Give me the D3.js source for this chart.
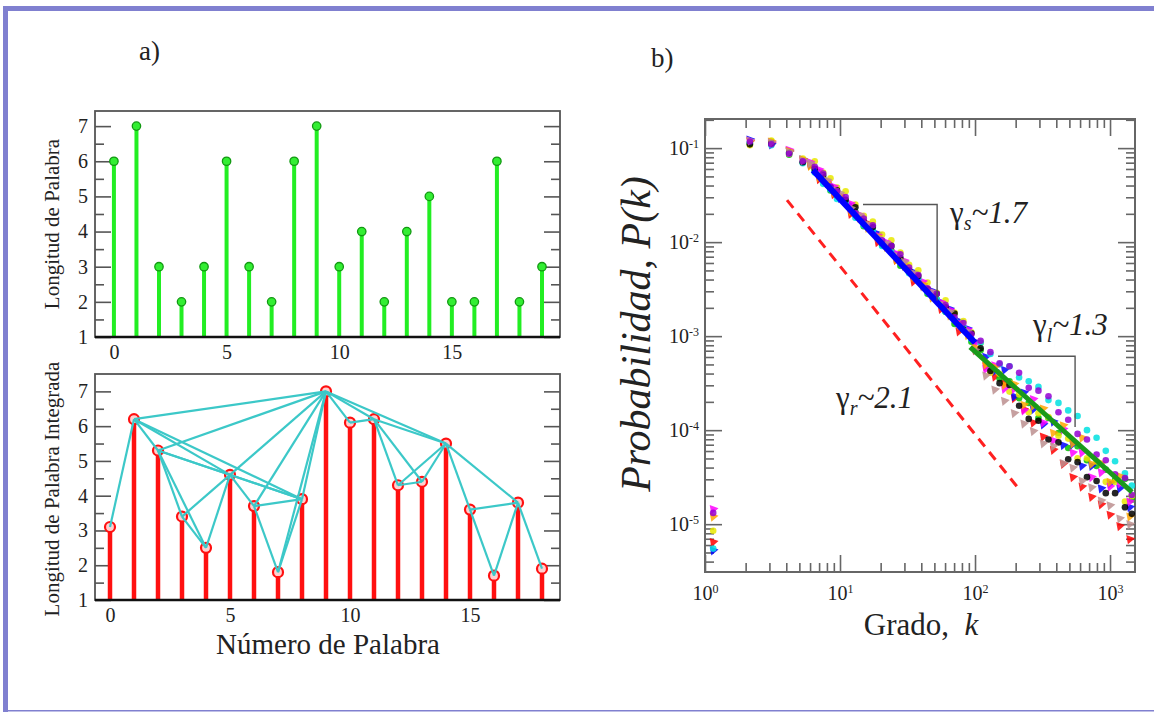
<!DOCTYPE html>
<html><head><meta charset="utf-8">
<script src="https://cdn.jsdelivr.net/npm/d3@7"></script>
<style>
body{margin:0;background:#fff}
svg{display:block}
text{font-family:"Liberation Serif","Times New Roman",serif;fill:#222}
</style></head>
<body><svg id="c" width="1154" height="713"></svg>
<script>
// ---------- DATA ----------
// panel a) top: word lengths
const wordIndex = [0,1,2,3,4,5,6,7,8,9,10,11,12,13,14,15,16,17,18,19];
const wordLengths = [6,7,3,2,3,6,3,2,6,7,3,4,2,4,5,2,2,6,2,3];
const topYTicks = [1,2,3,4,5,6,7];
const topXTicks = [0,5,10,15];
// panel a) bottom: integrated word lengths + visibility graph
const intIndex = [0,1,2,3,4,5,6,7,8,9,10,11,12,13,14,15,16,17,18];
const intLengths = [3.1,6.2,5.3,3.4,2.5,4.6,3.7,1.8,3.9,7.0,6.1,6.2,4.3,4.4,5.5,3.6,1.7,3.8,1.9];
const visEdges = [[0,1],[1,2],[1,5],[1,8],[1,9],[2,3],[2,4],[2,5],[2,8],[2,9],[3,4],[3,5],[4,5],
  [5,6],[5,8],[5,9],[6,7],[6,8],[6,9],[7,8],[7,9],[8,9],[9,10],[9,11],[9,14],[10,11],[11,12],
  [11,13],[11,14],[12,13],[12,14],[13,14],[14,15],[14,17],[15,16],[15,17],[16,17],[17,18]];
const botYTicks = [1,2,3,4,5,6,7];
const botXTicks = [0,5,10,15];
// panel b) degree distributions (log10 P(k)), one array per series
const degreeK  = [1.15,2.15,3.1,4.2,5.3,6,7,8,9,10,12,14,16,19,22,26,30,35,41,48,56,65,76,88,100,120,140,165,195,230,270,320,380,450,530,620,730,860,1000,1180,1400];
const degreeK2 = [1.15,2.15,3.1,4.2,5.3,6.5,7.5,8.5,9.5,11,13,15,17.5,20.5,24,28,32.5,38,44.5,52,60.5,70.5,82,94,110,130,152,180,212,250,295,350,415,490,575,675,795,930,1090,1290,1450];
const logP_red     = [-5.19,-0.93,-0.95,-1.04,-1.13,-1.18,-1.33,-1.35,-1.49,-1.51,-1.70,-1.74,-1.80,-2.00,-2.02,-2.19,-2.24,-2.42,-2.46,-2.54,-2.71,-2.73,-2.95,-2.95,-3.15,-3.32,-3.43,-3.50,-3.66,-3.78,-3.92,-4.07,-4.21,-4.36,-4.50,-4.60,-4.71,-4.79,-4.90,-5.02,-5.16];
const logP_green   = [null,-0.95,-0.93,-1.07,-1.15,-1.24,-1.32,-1.45,-1.50,-1.59,-1.68,-1.83,-1.89,-2.03,-2.09,-2.25,-2.32,-2.41,-2.55,-2.61,-2.74,-2.87,-2.93,-3.06,-3.15,-3.33,-3.45,-3.48,-3.66,-3.71,-3.87,-3.87,-4.03,-4.19,-4.17,-4.32,-4.38,-4.42,-4.53,-4.52,-4.74];
const logP_blue    = [-5.28,-0.91,-0.96,-1.03,-1.12,-1.17,-1.25,-1.37,-1.43,-1.53,-1.61,-1.73,-1.83,-1.91,-2.03,-2.13,-2.25,-2.32,-2.45,-2.52,-2.64,-2.71,-2.84,-2.92,-3.06,-3.22,-3.37,-3.36,-3.64,-3.60,-3.78,-3.94,-3.91,-4.16,-4.15,-4.38,-4.38,-4.62,-4.57,-4.62,-4.82];
const logP_yellow  = [-5.07,-0.97,-0.92,-1.06,-1.11,-1.14,-1.26,-1.32,-1.42,-1.46,-1.60,-1.72,-1.78,-1.92,-1.98,-2.11,-2.24,-2.30,-2.43,-2.54,-2.62,-2.75,-2.84,-2.96,-3.07,-3.39,-3.40,-3.59,-3.62,-3.81,-3.82,-3.86,-4.06,-4.09,-4.30,-4.30,-4.33,-4.55,-4.55,-4.76,-4.70];
const logP_magenta = [-4.84,-0.92,-0.94,-1.02,-1.14,-1.15,-1.23,-1.36,-1.41,-1.50,-1.59,-1.71,-1.82,-1.93,-2.00,-2.12,-2.20,-2.34,-2.42,-2.53,-2.64,-2.72,-2.86,-2.93,-3.08,-3.35,-3.31,-3.56,-3.56,-3.79,-3.67,-3.92,-4.11,-3.99,-4.24,-4.24,-4.50,-4.45,-4.60,-4.57,-4.76];
const logP_cyan    = [-5.26,-0.94,-0.97,-1.05,-1.16,-1.26,-1.38,-1.44,-1.54,-1.58,-1.74,-1.82,-1.88,-2.04,-2.11,-2.21,-2.33,-2.39,-2.53,-2.61,-2.74,-2.82,-2.91,-3.03,-3.07,-3.19,-3.30,-3.32,-3.44,-3.48,-3.54,-3.68,-3.71,-3.79,-3.85,-4.00,-4.08,-4.22,-4.33,-4.46,-4.59];
const logP_orange  = [-4.92,-0.93,-0.93,-1.03,-1.12,-1.19,-1.31,-1.37,-1.47,-1.51,-1.67,-1.74,-1.85,-1.94,-2.05,-2.19,-2.25,-2.37,-2.45,-2.59,-2.66,-2.78,-2.87,-2.99,-3.12,-3.30,-3.33,-3.52,-3.51,-3.73,-3.74,-3.77,-4.03,-3.95,-4.14,-4.08,-4.36,-4.35,-4.55,-4.49,-4.92];
const logP_black   = [null,-0.96,-0.95,-1.05,-1.15,-1.22,-1.29,-1.42,-1.45,-1.55,-1.63,-1.78,-1.84,-2.01,-2.04,-2.17,-2.30,-2.36,-2.50,-2.55,-2.69,-2.76,-2.93,-2.97,-3.13,-3.37,-3.50,-3.52,-3.74,-3.88,-3.90,-4.10,-4.13,-4.31,-4.34,-4.50,-4.54,-4.67,-4.67,-4.82,-4.89];
const logP_brown   = [null,-0.92,-0.94,-1.04,-1.13,-1.16,-1.28,-1.34,-1.44,-1.48,-1.64,-1.71,-1.81,-1.95,-2.01,-2.14,-2.21,-2.33,-2.47,-2.53,-2.66,-2.74,-2.88,-2.95,-3.15,-3.42,-3.57,-3.69,-3.82,-3.93,-4.01,-4.14,-4.17,-4.35,-4.40,-4.54,-4.61,-4.75,-4.80,-4.94,-5.00];
const logP_violet  = [-4.88,-0.93,-0.96,-1.06,-1.14,-1.20,-1.27,-1.41,-1.46,-1.52,-1.69,-1.75,-1.82,-1.98,-2.04,-2.13,-2.27,-2.35,-2.49,-2.55,-2.67,-2.80,-2.86,-2.98,-3.05,-3.17,-3.29,-3.32,-3.39,-3.55,-3.58,-3.64,-3.81,-3.89,-4.04,-4.10,-4.26,-4.32,-4.47,-4.51,-4.69];
const seriesColors = ["#ff0000","#00c000","#0000ff","#e8e800","#ff00ff","#00e0e0","#ffa500","#000000","#bc8f8f","#9400d3"];
// fitted power laws (endpoints) and guide line
const fitShortK = [6.3,100],  fitShortP = [0.0583,8.5e-4];
const fitLongK  = [92,1455],  fitLongP  = [7.64e-4,2.19e-5];
const guideK    = [4.05,215], guideP    = [0.028,2.3e-5];
const triS_K = [14.8,52.4,52.4], triS_P = [0.0251,0.0251,0.0024];
const triL_K = [148,551,551],   triL_P = [6.12e-4,6.12e-4,1.08e-4];
const majorKTicks = [1,10,100,1000];
const minorKTicks = [2,3,4,5,6,7,8,9,20,30,40,50,60,70,80,90,200,300,400,500,600,700,800,900];
const majorPTicks = [1e-5,1e-4,1e-3,1e-2,1e-1];
const minorPTicks = [4e-6,5e-6,6e-6,7e-6,8e-6,9e-6,2e-5,3e-5,4e-5,5e-5,6e-5,7e-5,8e-5,9e-5,2e-4,3e-4,4e-4,5e-4,6e-4,7e-4,8e-4,9e-4,2e-3,3e-3,4e-3,5e-3,6e-3,7e-3,8e-3,9e-3,2e-2,3e-2,4e-2,5e-2,6e-2,7e-2,8e-2,9e-2,2e-1];

// ---------- DRAW ----------
const FONT = "'Liberation Serif','Times New Roman',serif";
const svg = d3.select("#c");
// page border
svg.append("rect").attr("x",3).attr("y",6).attr("width",1151).attr("height",5).attr("fill","#8080d0");
svg.append("rect").attr("x",3).attr("y",6).attr("width",5).attr("height",706).attr("fill","#8080d0");
svg.append("rect").attr("x",3).attr("y",710).attr("width",1151).attr("height",1.5).attr("fill","#8080d0");

const frameCol = "#555";
function styleAxis(g){ g.attr("font-family",FONT); g.select(".domain").remove(); g.selectAll(".tick line").attr("stroke",frameCol).attr("stroke-width",1.6); }

// ===== panel a) =====
function linearPanel(x,y,yTicks,xTicks){
  const [x0,x1]=x.range(), [y0,y1]=y.range();
  const halves=[]; yTicks.forEach(t=>{ if(t+0.5<y.domain()[1]) halves.push(t+0.5); });
  svg.append("g").attr("transform",`translate(${x0},0)`).call(d3.axisLeft(y).tickValues(yTicks).tickSize(-16).tickPadding(7).tickFormat(d3.format("d")))
    .call(styleAxis).selectAll("text").attr("font-size",20).attr("fill","#222");
  svg.append("g").attr("transform",`translate(${x0},0)`).call(d3.axisLeft(y).tickValues(halves).tickSize(-9).tickFormat("")).call(styleAxis);
  svg.append("g").attr("transform",`translate(${x1},0)`).call(d3.axisRight(y).tickValues(yTicks).tickSize(-16).tickFormat("")).call(styleAxis);
  svg.append("g").attr("transform",`translate(${x1},0)`).call(d3.axisRight(y).tickValues(halves).tickSize(-9).tickFormat("")).call(styleAxis);
  svg.append("g").attr("transform",`translate(0,${y0})`).call(d3.axisBottom(x).tickValues(xTicks).tickSize(0).tickPadding(8).tickFormat(d3.format("d")))
    .call(styleAxis).selectAll("text").attr("font-size",20).attr("fill","#222");
  svg.append("rect").attr("x",x0).attr("y",y1).attr("width",x1-x0).attr("height",y0-y1).attr("fill","none").attr("stroke",frameCol).attr("stroke-width",1.8);
}
const xT = d3.scaleLinear().domain([-0.84,19.8]).range([95,560]);
const yT = d3.scaleLinear().domain([1,7.43]).range([337,111]);
linearPanel(xT,yT,topYTicks,topXTicks);
const gT = svg.append("g");
gT.selectAll("line.stem").data(wordIndex).join("line")
  .attr("x1",d=>xT(d)).attr("x2",d=>xT(d)).attr("y1",yT(1)).attr("y2",(d,i)=>yT(wordLengths[i]))
  .attr("stroke","#22ee22").attr("stroke-width",4);
svg.append("line").attr("x1",95).attr("x2",560).attr("y1",yT(1)).attr("y2",yT(1)).attr("stroke","#111").attr("stroke-width",2.5);
gT.selectAll("circle").data(wordIndex).join("circle")
  .attr("cx",d=>xT(d)).attr("cy",(d,i)=>yT(wordLengths[i])).attr("r",4.2)
  .attr("fill","#33ee33").attr("stroke","#119911").attr("stroke-width",1.3);
svg.append("text").attr("transform","translate(59,224) rotate(-90)").attr("text-anchor","middle").attr("font-size",21).attr("font-family",FONT).text("Longitud de Palabra");

const xB = d3.scaleLinear().domain([-0.625,18.75]).range([95,560]);
const yB = d3.scaleLinear().domain([1,7.5]).range([600,374]);
linearPanel(xB,yB,botYTicks,botXTicks);
const gB = svg.append("g");
gB.selectAll("line.stem").data(intIndex).join("line")
  .attr("x1",d=>xB(d)).attr("x2",d=>xB(d)).attr("y1",yB(1)).attr("y2",(d,i)=>yB(intLengths[i]))
  .attr("stroke","#ff1010").attr("stroke-width",4.5);
svg.append("line").attr("x1",95).attr("x2",560).attr("y1",yB(1)).attr("y2",yB(1)).attr("stroke","#111").attr("stroke-width",2.5);
gB.selectAll("circle").data(intIndex).join("circle")
  .attr("cx",d=>xB(d)).attr("cy",(d,i)=>yB(intLengths[i])).attr("r",5)
  .attr("fill","#ffd0d0").attr("stroke","#ff1010").attr("stroke-width",2.2);
gB.selectAll("line.edge").data(visEdges).join("line")
  .attr("x1",e=>xB(e[0])).attr("y1",e=>yB(intLengths[e[0]]))
  .attr("x2",e=>xB(e[1])).attr("y2",e=>yB(intLengths[e[1]]))
  .attr("stroke","#3cc8c8").attr("stroke-width",2.2);
svg.append("text").attr("transform","translate(59,489) rotate(-90)").attr("text-anchor","middle").attr("font-size",21).attr("font-family",FONT).text("Longitud de Palabra Integrada");
svg.append("text").attr("x",328).attr("y",654).attr("text-anchor","middle").attr("font-size",29).attr("font-family",FONT).text("Número de Palabra");
svg.append("text").attr("x",139).attr("y",60).attr("font-size",27).attr("font-family",FONT).text("a)");

// ===== panel b) =====
const xR = d3.scaleLog().domain([1,1531]).range([705,1135]);
const yR = d3.scaleLog().domain([3.1e-6,0.204]).range([572,119]);
const rc = "#666";
function styleR(g){ g.attr("font-family",FONT); g.select(".domain").remove(); g.selectAll(".tick line").attr("stroke",rc).attr("stroke-width",1.6); }
function supLabel(sel){
  sel.each(function(d){
    const t=d3.select(this); const e=Math.round(Math.log10(d));
    t.text(null).attr("font-size",20).attr("fill","#333");
    t.append("tspan").text("10");
    t.append("tspan").attr("dy","-0.6em").attr("font-size",12).text(e);
  });
}
svg.append("g").attr("transform","translate(705,0)").call(d3.axisLeft(yR).tickValues(majorPTicks).tickSize(-17).tickPadding(6)).call(styleR).selectAll("text").call(supLabel);
svg.append("g").attr("transform","translate(705,0)").call(d3.axisLeft(yR).tickValues(minorPTicks).tickSize(-9).tickFormat("")).call(styleR);
svg.append("g").attr("transform","translate(1135,0)").call(d3.axisRight(yR).tickValues(majorPTicks).tickSize(-17).tickFormat("")).call(styleR);
svg.append("g").attr("transform","translate(1135,0)").call(d3.axisRight(yR).tickValues(minorPTicks).tickSize(-9).tickFormat("")).call(styleR);
svg.append("g").attr("transform","translate(0,572)").call(d3.axisBottom(xR).tickValues(majorKTicks).tickSize(-17).tickPadding(14)).call(styleR).selectAll("text").call(supLabel);
svg.append("g").attr("transform","translate(0,572)").call(d3.axisBottom(xR).tickValues(minorKTicks).tickSize(-9).tickFormat("")).call(styleR);
svg.append("g").attr("transform","translate(0,119)").call(d3.axisTop(xR).tickValues(majorKTicks).tickSize(-17).tickFormat("")).call(styleR);
svg.append("g").attr("transform","translate(0,119)").call(d3.axisTop(xR).tickValues(minorKTicks).tickSize(-9).tickFormat("")).call(styleR);
svg.append("rect").attr("x",705).attr("y",119).attr("width",430).attr("height",453).attr("fill","none").attr("stroke",rc).attr("stroke-width",2);

// scatter
const allSeries = [logP_red,logP_green,logP_blue,logP_yellow,logP_magenta,logP_cyan,logP_orange,logP_black,logP_brown,logP_violet];
const gS = svg.append("g");
const tri = d3.symbol().type(d3.symbolTriangle).size(38);
allSeries.forEach((s,si)=>{
  const ks = si%2===0 ? degreeK : degreeK2;
  const pts = ks.map((k,i)=>({k:k,p:s[i]===null?null:Math.pow(10,s[i])})).filter(d=>d.p!==null);
  if(si%2===0){
    gS.append("g").selectAll("path").data(pts).join("path").attr("d",tri)
      .attr("transform",d=>`translate(${xR(d.k)},${yR(d.p)}) rotate(200)`).attr("fill",seriesColors[si]).attr("opacity",0.85);
  } else {
    gS.append("g").selectAll("circle").data(pts).join("circle")
      .attr("cx",d=>xR(d.k)).attr("cy",d=>yR(d.p)).attr("r",3.3).attr("fill",seriesColors[si]).attr("opacity",0.85);
  }
});
const ln = d3.line().x(d=>xR(d[0])).y(d=>yR(d[1]));
svg.append("path").attr("d",ln(d3.zip(fitShortK,fitShortP))).attr("stroke","#0000ff").attr("stroke-width",6).attr("fill","none");
svg.append("path").attr("d",ln(d3.zip(fitLongK,fitLongP))).attr("stroke","#1a9a1a").attr("stroke-width",5).attr("fill","none");
svg.append("path").attr("d",ln(d3.zip(guideK,guideP))).attr("stroke","#ff2020").attr("stroke-width",3).attr("stroke-dasharray","10,7").attr("fill","none");
svg.append("path").attr("d",ln(d3.zip(triS_K,triS_P))).attr("stroke","#555").attr("stroke-width",1.4).attr("fill","none");
svg.append("path").attr("d",ln(d3.zip(triL_K,triL_P))).attr("stroke","#555").attr("stroke-width",1.4).attr("fill","none");

function gammaLabel(k,p,sub,val){
  const t = svg.append("text").attr("x",xR(k)).attr("y",yR(p)).attr("font-size",31).attr("font-family",FONT).attr("fill","#222");
  t.append("tspan").text("γ");
  t.append("tspan").attr("dy","0.35em").attr("font-size",20).attr("font-style","italic").text(sub);
  t.append("tspan").attr("dy","-0.23em").attr("font-style","italic").text("~"+val);
}
gammaLabel(65.3,0.0159,"s","1.7");
gammaLabel(269,1.03e-3,"l","1.3");
gammaLabel(9.34,1.71e-4,"r","2.1");

svg.append("text").attr("transform","translate(650,334) rotate(-90)").attr("text-anchor","middle").attr("font-size",42).attr("font-style","italic").attr("font-family",FONT).text("Probabilidad, P(k)");
const gx = svg.append("text").attr("x",921).attr("y",635).attr("text-anchor","middle").attr("font-size",31).attr("font-family",FONT);
gx.append("tspan").text("Grado,\u00a0\u00a0");
gx.append("tspan").attr("font-style","italic").text("k");
svg.append("text").attr("x",651).attr("y",67).attr("font-size",27).attr("font-family",FONT).text("b)");
</script></body></html>
